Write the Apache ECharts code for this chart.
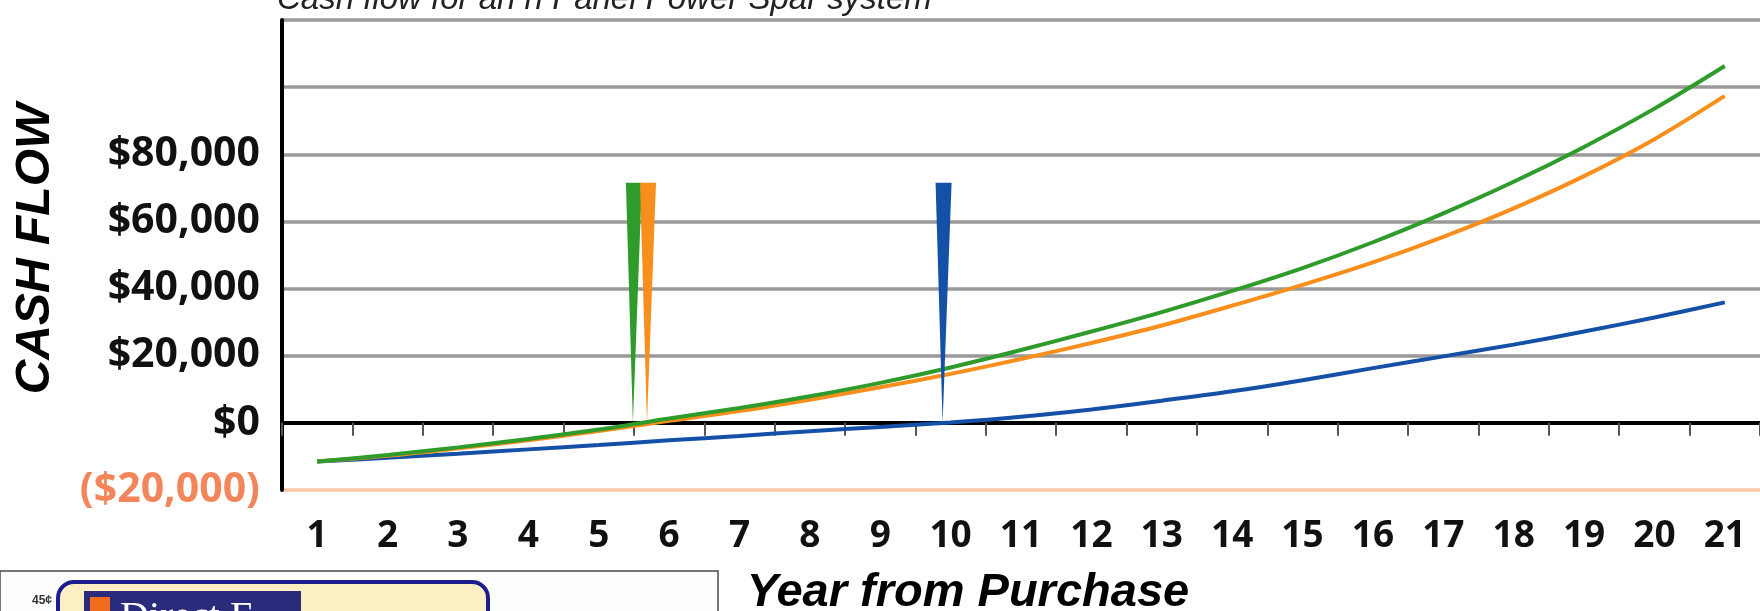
<!DOCTYPE html>
<html>
<head>
<meta charset="utf-8">
<script src="https://cdn.jsdelivr.net/npm/echarts@6/dist/echarts.min.js"></script>
<style>
  html, body { margin: 0; padding: 0; background: #fff; }
  #chart { width: 1760px; height: 611px; }
</style>
</head>
<body>
<div id="chart"></div>
<script>
// years after purchase (category axis)
const years = ['1','2','3','4','5','6','7','8','9','10','11','12','13','14','15','16','17','18','19','20','21'];

// cumulative cash flow, $
const greenFlow = [-11500, -9600, -7300, -4800, -2000, 1300, 4400, 7900, 11900, 16500, 21700, 27200, 33000, 39300, 46100, 53800, 62400, 71800, 82200, 93600, 106300];
const orangeFlow = [-11500, -9800, -7600, -5200, -2400, 600, 3500, 6900, 10600, 14600, 19000, 23800, 29000, 34900, 41100, 47800, 55400, 63900, 73500, 84500, 97400];
const blueFlow = [-11500, -10400, -9200, -7900, -6600, -5200, -3900, -2500, -1200, 100, 1800, 4000, 6600, 9400, 12700, 16300, 19800, 23300, 27200, 31400, 35900];

// break-even markers: [year, top of wedge]
const breakEven = [[5.5, 71500], [5.7, 71500], [9.9, 71500]];

const GREEN = '#2e9b2a';
const ORANGE = '#f88e1c';
const BLUE = '#1350a6';
const MARKER_COLORS = [GREEN, ORANGE, BLUE];
const GRID_GREY = '#999999';
const NEG_SALMON = '#fbc6a8';
const LABEL_FONT = '"Open Sans", "DejaVu Sans", sans-serif';
const TITLE_FONT = '"Liberation Sans", Arial, sans-serif';

const chart = echarts.init(document.getElementById('chart'), null, { renderer: 'canvas' });

const money = (v) => {
  const s = '$' + Math.abs(v).toLocaleString('en-US');
  return v < 0 ? '(' + s + ')' : s;
};

const option = {
  backgroundColor: '#fff',
  animation: false,
  grid: { left: 282, top: 20, width: 1487, height: 470, containLabel: false },
  xAxis: [
    {
      // line at zero with ticks between years
      type: 'category',
      data: years,
      boundaryGap: true,
      axisLine: { onZero: true, lineStyle: { color: '#000', width: 4 } },
      axisTick: { show: true, length: 13, lineStyle: { color: '#555', width: 2 } },
      axisLabel: { show: false },
      splitLine: { show: false },
      z: 3
    },
    {
      // year labels under the chart
      type: 'category',
      data: years,
      position: 'bottom',
      boundaryGap: true,
      axisLine: { show: false, onZero: false },
      axisTick: { show: false },
      axisLabel: {
        margin: 28,
        color: '#111',
        fontFamily: LABEL_FONT,
        fontWeight: 'bold',
        fontSize: 37
      }
    },
    {
      // hidden numeric twin for the wedges
      type: 'value',
      min: 0.5,
      max: 21.5,
      show: false
    }
  ],
  yAxis: {
    type: 'value',
    min: -20000,
    max: 120000,
    interval: 20000,
    axisLine: { show: true, onZero: false, lineStyle: { color: '#000', width: 4 } },
    axisTick: { show: false },
    axisLabel: {
      margin: 22,
      fontFamily: LABEL_FONT,
      fontWeight: 'bold',
      fontSize: 41,
      color: (v) => (Number(v) < 0 ? '#f2865a' : '#111'),
      formatter: (v) => (v > 80000 ? '' : money(v))
    },
    splitLine: {
      show: true,
      lineStyle: {
        width: 3.5,
        color: [NEG_SALMON, 'rgba(0,0,0,0)', GRID_GREY, GRID_GREY, GRID_GREY, GRID_GREY, GRID_GREY, GRID_GREY]
      }
    }
  },
  graphic: [
    {
      type: 'text',
      x: 277,
      y: 0,
      style: {
        text: 'Cash flow for an n Panel Power Spar system',
        font: 'italic 33px ' + TITLE_FONT,
        fill: '#222',
        align: 'left',
        verticalAlign: 'middle'
      }
    },
    {
      type: 'text',
      x: 36,
      y: 249,
      rotation: Math.PI / 2,
      style: {
        text: 'CASH FLOW',
        font: 'italic bold 48px ' + TITLE_FONT,
        fill: '#000',
        align: 'center',
        verticalAlign: 'middle'
      }
    },
    {
      type: 'text',
      x: 968,
      y: 593,
      style: {
        text: 'Year from Purchase',
        font: 'italic bold 47px ' + TITLE_FONT,
        fill: '#000',
        align: 'center',
        verticalAlign: 'middle'
      }
    },
    // clipped picture at bottom left
    {
      type: 'rect',
      shape: { x: 0, y: 571, width: 718, height: 60 },
      style: { fill: '#fdfdfd', stroke: '#4a4a4a', lineWidth: 1.5 }
    },
    {
      type: 'rect',
      shape: { x: 58, y: 582, width: 430, height: 60, r: 16 },
      style: { fill: '#fcefc4', stroke: '#1c1c8c', lineWidth: 4 }
    },
    {
      type: 'rect',
      shape: { x: 84, y: 591, width: 217, height: 30 },
      style: { fill: '#2b2b7c' }
    },
    {
      type: 'rect',
      shape: { x: 90, y: 597, width: 20, height: 20 },
      style: { fill: '#f26a1b' }
    },
    {
      type: 'text',
      x: 120,
      y: 598,
      style: {
        text: 'Direct E',
        font: '40px "Liberation Serif", "DejaVu Serif", serif',
        fill: '#fff',
        align: 'left',
        verticalAlign: 'top'
      }
    },
    {
      type: 'text',
      x: 42,
      y: 601,
      style: {
        text: '45¢',
        font: 'bold 12px ' + TITLE_FONT,
        fill: '#333',
        align: 'center',
        verticalAlign: 'middle'
      }
    }
  ],
  series: [
    {
      name: 'blue',
      type: 'line',
      xAxisIndex: 0,
      data: blueFlow,
      smooth: 0.3,
      showSymbol: false,
      lineStyle: { color: BLUE, width: 4 },
      z: 4
    },
    {
      name: 'orange',
      type: 'line',
      xAxisIndex: 0,
      data: orangeFlow,
      smooth: 0.3,
      showSymbol: false,
      lineStyle: { color: ORANGE, width: 4 },
      z: 5
    },
    {
      name: 'green',
      type: 'line',
      xAxisIndex: 0,
      data: greenFlow,
      smooth: 0.3,
      showSymbol: false,
      lineStyle: { color: GREEN, width: 4 },
      z: 6
    },
    {
      name: 'break-even',
      type: 'custom',
      coordinateSystem: 'cartesian2d',
      xAxisIndex: 2,
      yAxisIndex: 0,
      data: breakEven,
      encode: { x: 0, y: 1 },
      z: 7,
      renderItem: (params, api) => {
        const top = api.coord([api.value(0), api.value(1)]);
        const tip = api.coord([api.value(0), 0]);
        const hw = 8;
        return {
          type: 'polygon',
          shape: { points: [[top[0] - hw, top[1]], [top[0] + hw, top[1]], [tip[0] - 1, tip[1]]] },
          style: { fill: MARKER_COLORS[params.dataIndex % MARKER_COLORS.length] }
        };
      }
    }
  ]
};

chart.setOption(option);
</script>
</body>
</html>
